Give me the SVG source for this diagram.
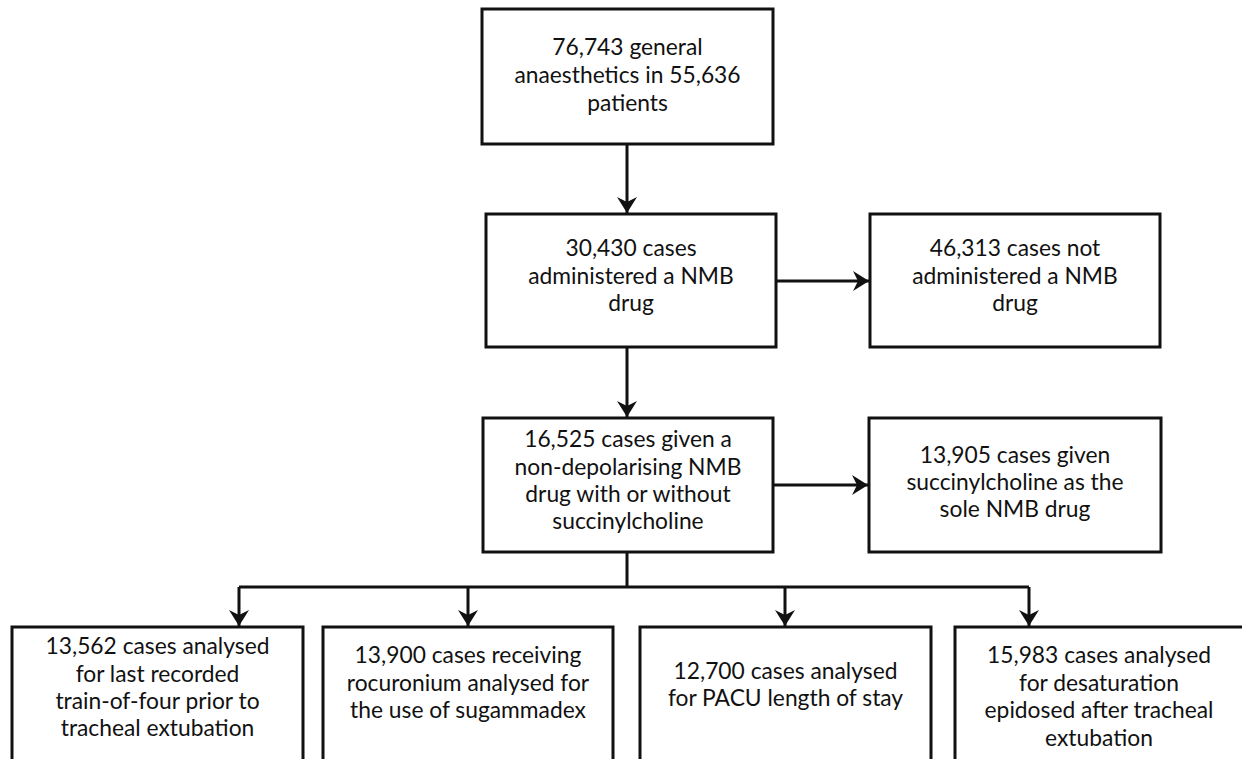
<svg xmlns="http://www.w3.org/2000/svg" width="1242" height="759" viewBox="0 0 1242 759">
<defs>
<style>
.box{fill:#fff;stroke:#111;stroke-width:3}
.t{font-family:Lato,"Noto Sans","Liberation Sans",sans-serif;font-size:22.8px;fill:#111;text-anchor:middle}
.c{fill:none;stroke:#111;stroke-width:3}
</style>
<marker id="ah" viewBox="0 0 16 20" markerWidth="16" markerHeight="20" refX="16" refY="10" orient="auto" markerUnits="userSpaceOnUse">
<path d="M0,0 L16,10 L0,20 L5,10 Z" fill="#111"/>
</marker>
</defs>
<rect width="1242" height="759" fill="#fff"/>
<g id="connectors">
<path class="c" d="M627,144 V213" marker-end="url(#ah)"/>
<path class="c" d="M776,281 H869" marker-end="url(#ah)"/>
<path class="c" d="M627,347 V417" marker-end="url(#ah)"/>
<path class="c" d="M773,485 H868" marker-end="url(#ah)"/>
<path class="c" d="M627,552 V587"/>
<path class="c" d="M239,587 H1029"/>
<path class="c" d="M239,587 V626" marker-end="url(#ah)"/>
<path class="c" d="M468,587 V626" marker-end="url(#ah)"/>
<path class="c" d="M785,587 V626" marker-end="url(#ah)"/>
<path class="c" d="M1029,587 V626" marker-end="url(#ah)"/>
</g>
<g id="n1">
<rect class="box" x="482" y="9" width="291" height="135"/>
<text class="t"><tspan x="627.5" y="55">76,743 general</tspan><tspan x="627.5" y="83">anaesthetics in 55,636</tspan><tspan x="627.5" y="111">patients</tspan></text>
</g>
<g id="n2">
<rect class="box" x="486" y="214" width="290" height="133"/>
<text class="t"><tspan x="631" y="256">30,430 cases</tspan><tspan x="631" y="284">administered a NMB</tspan><tspan x="631" y="311">drug</tspan></text>
</g>
<g id="n3">
<rect class="box" x="870" y="214" width="290" height="133"/>
<text class="t"><tspan x="1015" y="256">46,313 cases not</tspan><tspan x="1015" y="284">administered a NMB</tspan><tspan x="1015" y="311">drug</tspan></text>
</g>
<g id="n4">
<rect class="box" x="483" y="418" width="290" height="134"/>
<text class="t"><tspan x="628" y="447">16,525 cases given a</tspan><tspan x="628" y="475">non-depolarising NMB</tspan><tspan x="628" y="502">drug with or without</tspan><tspan x="628" y="529">succinylcholine</tspan></text>
</g>
<g id="n5">
<rect class="box" x="869" y="418" width="292" height="134"/>
<text class="t"><tspan x="1015" y="463">13,905 cases given</tspan><tspan x="1015" y="490">succinylcholine as the</tspan><tspan x="1015" y="517">sole NMB drug</tspan></text>
</g>
<g id="n6">
<rect class="box" x="12" y="627" width="291" height="150"/>
<text class="t"><tspan x="157.5" y="654">13,562 cases analysed</tspan><tspan x="157.5" y="682">for last recorded</tspan><tspan x="157.5" y="709">train-of-four prior to</tspan><tspan x="157.5" y="736">tracheal extubation</tspan></text>
</g>
<g id="n7">
<rect class="box" x="323" y="627" width="290" height="150"/>
<text class="t"><tspan x="468" y="663">13,900 cases receiving</tspan><tspan x="468" y="691">rocuronium analysed for</tspan><tspan x="468" y="718">the use of sugammadex</tspan></text>
</g>
<g id="n8">
<rect class="box" x="640" y="627" width="291" height="150"/>
<text class="t"><tspan x="785.5" y="679">12,700 cases analysed</tspan><tspan x="785.5" y="706">for PACU length of stay</tspan></text>
</g>
<g id="n9">
<rect class="box" x="955" y="627" width="300" height="150"/>
<text class="t"><tspan x="1099" y="663">15,983 cases analysed</tspan><tspan x="1099" y="691">for desaturation</tspan><tspan x="1099" y="718">epidosed after tracheal</tspan><tspan x="1099" y="746">extubation</tspan></text>
</g>
</svg>
